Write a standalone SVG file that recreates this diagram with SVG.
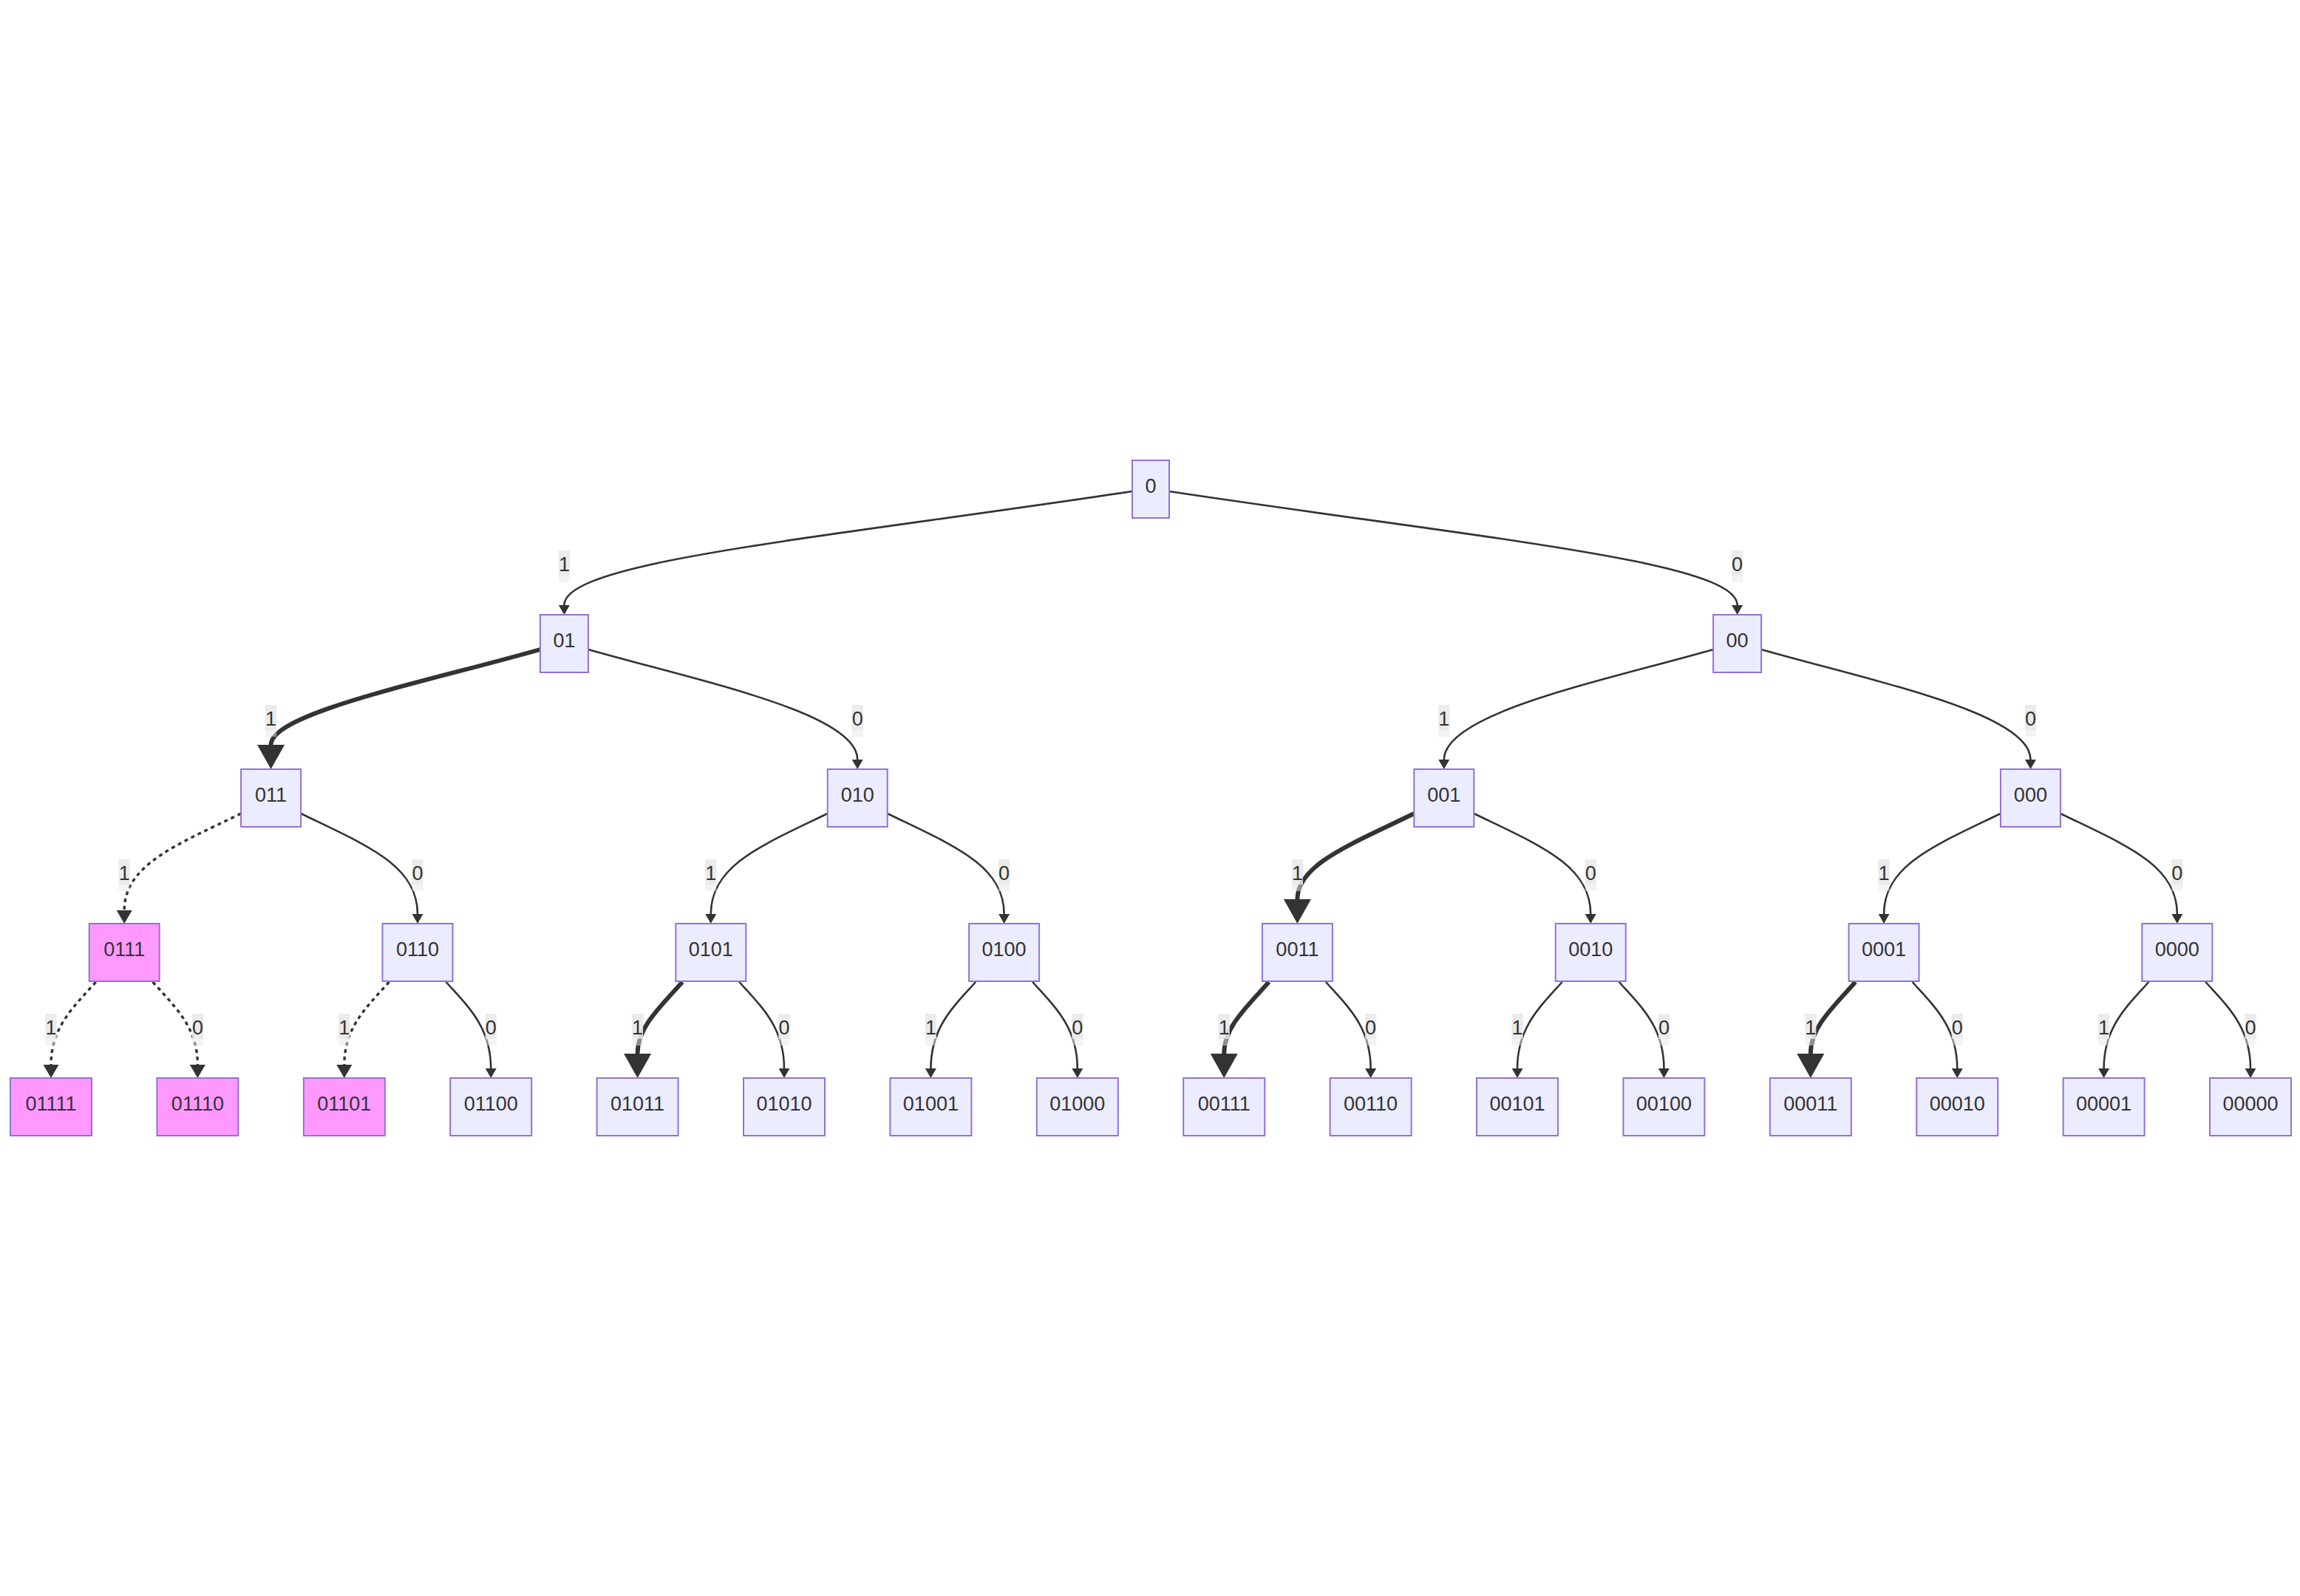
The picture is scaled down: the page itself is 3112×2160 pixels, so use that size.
<svg xmlns="http://www.w3.org/2000/svg" width="3112" height="2160" viewBox="0 0 3112 2160">
<style>
.n{fill:#ECECFF;stroke:#9370DB;stroke-width:2}
.p{fill:#FF99FF;stroke:#9370DB;stroke-width:2}
.nt{font-family:"Liberation Sans",Arial,sans-serif;font-size:27px;fill:#333;text-anchor:middle}
.e{fill:none;stroke:#333;stroke-width:2.6;marker-end:url(#an)}
.t{fill:none;stroke:#333;stroke-width:5.9;marker-end:url(#at)}
.d{fill:none;stroke:#333;stroke-width:3.4;stroke-dasharray:5 5;marker-end:url(#ad)}
.lb{fill:#e8e8e8;opacity:0.5}
.lk{fill:#e8e8e8;opacity:0.8}
</style>
<defs>
<marker id="an" markerUnits="userSpaceOnUse" markerWidth="13" markerHeight="15" viewBox="0 0 13 15" refX="0" refY="7.5" orient="auto"><path d="M0,0 L13,7.5 L0,15 z" fill="#333"/></marker>
<marker id="at" markerUnits="userSpaceOnUse" markerWidth="33" markerHeight="37" viewBox="0 0 33 37" refX="0" refY="18.5" orient="auto"><path d="M0,0 L33,18.5 L0,37 z" fill="#333"/></marker>
<marker id="ad" markerUnits="userSpaceOnUse" markerWidth="18" markerHeight="21" viewBox="0 0 18 21" refX="0" refY="10.5" orient="auto"><path d="M0,0 L18,10.5 L0,21 z" fill="#333"/></marker>
</defs>
<rect x="0" y="0" width="3112" height="2160" fill="#ffffff"/>
<g id="connectors">
<path class="e" d="M1532,665 C1100,730 763.4,760 763.4,819"/>
<path class="e" d="M1582,665 C2014,730 2350.6,760 2350.6,819"/>
<path class="t" d="M730.9,879 C580,922 366.6,965 366.6,1008"/>
<path class="e" d="M795.9,879 C946.8,922 1160.2,965 1160.2,1028"/>
<path class="e" d="M2318.1,879 C2167.2,922 1953.8,965 1953.8,1028"/>
<path class="e" d="M2383.1,879 C2534,922 2747.4,965 2747.4,1028"/>
<path class="d" d="M326.1,1101 C240.1,1143 168.2,1170 168.2,1232"/>
<path class="e" d="M407.1,1101 C493.1,1143 565,1170 565,1237"/>
<path class="e" d="M1119.7,1101 C1033.7,1143 961.8,1170 961.8,1237"/>
<path class="e" d="M1200.7,1101 C1286.7,1143 1358.6,1170 1358.6,1237"/>
<path class="t" d="M1913.3,1101 C1827.3,1143 1755.4,1170 1755.4,1217"/>
<path class="e" d="M1994.3,1101 C2080.3,1143 2152.2,1170 2152.2,1237"/>
<path class="e" d="M2706.9,1101 C2620.9,1143 2549,1170 2549,1237"/>
<path class="e" d="M2787.9,1101 C2873.9,1143 2945.8,1170 2945.8,1237"/>
<path class="d" d="M129.7,1329 C100.2,1362 69,1390 69,1441"/>
<path class="d" d="M206.7,1329 C236.2,1362 267.4,1390 267.4,1441"/>
<path class="d" d="M526.5,1329 C497,1362 465.8,1390 465.8,1441"/>
<path class="e" d="M603.5,1329 C633,1362 664.2,1390 664.2,1446"/>
<path class="t" d="M923.3,1329 C893.8,1362 862.6,1390 862.6,1426"/>
<path class="e" d="M1000.3,1329 C1029.8,1362 1061,1390 1061,1446"/>
<path class="e" d="M1320.1,1329 C1290.6,1362 1259.4,1390 1259.4,1446"/>
<path class="e" d="M1397.1,1329 C1426.6,1362 1457.8,1390 1457.8,1446"/>
<path class="t" d="M1716.9,1329 C1687.4,1362 1656.2,1390 1656.2,1426"/>
<path class="e" d="M1793.9,1329 C1823.4,1362 1854.6,1390 1854.6,1446"/>
<path class="e" d="M2113.7,1329 C2084.2,1362 2053,1390 2053,1446"/>
<path class="e" d="M2190.7,1329 C2220.2,1362 2251.4,1390 2251.4,1446"/>
<path class="t" d="M2510.5,1329 C2481,1362 2449.8,1390 2449.8,1426"/>
<path class="e" d="M2587.5,1329 C2617,1362 2648.2,1390 2648.2,1446"/>
<path class="e" d="M2907.3,1329 C2877.8,1362 2846.6,1390 2846.6,1446"/>
<path class="e" d="M2984.3,1329 C3013.8,1362 3045,1390 3045,1446"/>
</g>
<g id="edge-labels">
<g><rect class="lb" x="755.9" y="745" width="15" height="43"/><rect class="lk" x="755.9" y="745" width="15" height="34"/><text class="nt" x="763.4" y="772.5">1</text></g>
<g><rect class="lb" x="2343.1" y="745" width="15" height="43"/><rect class="lk" x="2343.1" y="745" width="15" height="34"/><text class="nt" x="2350.6" y="772.5">0</text></g>
<g><rect class="lb" x="359.1" y="954" width="15" height="43"/><rect class="lk" x="359.1" y="954" width="15" height="34"/><text class="nt" x="366.6" y="981.5">1</text></g>
<g><rect class="lb" x="1152.7" y="954" width="15" height="43"/><rect class="lk" x="1152.7" y="954" width="15" height="34"/><text class="nt" x="1160.2" y="981.5">0</text></g>
<g><rect class="lb" x="1946.3" y="954" width="15" height="43"/><rect class="lk" x="1946.3" y="954" width="15" height="34"/><text class="nt" x="1953.8" y="981.5">1</text></g>
<g><rect class="lb" x="2739.9" y="954" width="15" height="43"/><rect class="lk" x="2739.9" y="954" width="15" height="34"/><text class="nt" x="2747.4" y="981.5">0</text></g>
<g><rect class="lb" x="160.7" y="1163" width="15" height="43"/><rect class="lk" x="160.7" y="1163" width="15" height="34"/><text class="nt" x="168.2" y="1190.5">1</text></g>
<g><rect class="lb" x="557.5" y="1163" width="15" height="43"/><rect class="lk" x="557.5" y="1163" width="15" height="34"/><text class="nt" x="565" y="1190.5">0</text></g>
<g><rect class="lb" x="954.3" y="1163" width="15" height="43"/><rect class="lk" x="954.3" y="1163" width="15" height="34"/><text class="nt" x="961.8" y="1190.5">1</text></g>
<g><rect class="lb" x="1351.1" y="1163" width="15" height="43"/><rect class="lk" x="1351.1" y="1163" width="15" height="34"/><text class="nt" x="1358.6" y="1190.5">0</text></g>
<g><rect class="lb" x="1747.9" y="1163" width="15" height="43"/><rect class="lk" x="1747.9" y="1163" width="15" height="34"/><text class="nt" x="1755.4" y="1190.5">1</text></g>
<g><rect class="lb" x="2144.7" y="1163" width="15" height="43"/><rect class="lk" x="2144.7" y="1163" width="15" height="34"/><text class="nt" x="2152.2" y="1190.5">0</text></g>
<g><rect class="lb" x="2541.5" y="1163" width="15" height="43"/><rect class="lk" x="2541.5" y="1163" width="15" height="34"/><text class="nt" x="2549" y="1190.5">1</text></g>
<g><rect class="lb" x="2938.3" y="1163" width="15" height="43"/><rect class="lk" x="2938.3" y="1163" width="15" height="34"/><text class="nt" x="2945.8" y="1190.5">0</text></g>
<g><rect class="lb" x="61.5" y="1372" width="15" height="43"/><rect class="lk" x="61.5" y="1372" width="15" height="34"/><text class="nt" x="69" y="1399.5">1</text></g>
<g><rect class="lb" x="259.9" y="1372" width="15" height="43"/><rect class="lk" x="259.9" y="1372" width="15" height="34"/><text class="nt" x="267.4" y="1399.5">0</text></g>
<g><rect class="lb" x="458.3" y="1372" width="15" height="43"/><rect class="lk" x="458.3" y="1372" width="15" height="34"/><text class="nt" x="465.8" y="1399.5">1</text></g>
<g><rect class="lb" x="656.7" y="1372" width="15" height="43"/><rect class="lk" x="656.7" y="1372" width="15" height="34"/><text class="nt" x="664.2" y="1399.5">0</text></g>
<g><rect class="lb" x="855.1" y="1372" width="15" height="43"/><rect class="lk" x="855.1" y="1372" width="15" height="34"/><text class="nt" x="862.6" y="1399.5">1</text></g>
<g><rect class="lb" x="1053.5" y="1372" width="15" height="43"/><rect class="lk" x="1053.5" y="1372" width="15" height="34"/><text class="nt" x="1061" y="1399.5">0</text></g>
<g><rect class="lb" x="1251.9" y="1372" width="15" height="43"/><rect class="lk" x="1251.9" y="1372" width="15" height="34"/><text class="nt" x="1259.4" y="1399.5">1</text></g>
<g><rect class="lb" x="1450.3" y="1372" width="15" height="43"/><rect class="lk" x="1450.3" y="1372" width="15" height="34"/><text class="nt" x="1457.8" y="1399.5">0</text></g>
<g><rect class="lb" x="1648.7" y="1372" width="15" height="43"/><rect class="lk" x="1648.7" y="1372" width="15" height="34"/><text class="nt" x="1656.2" y="1399.5">1</text></g>
<g><rect class="lb" x="1847.1" y="1372" width="15" height="43"/><rect class="lk" x="1847.1" y="1372" width="15" height="34"/><text class="nt" x="1854.6" y="1399.5">0</text></g>
<g><rect class="lb" x="2045.5" y="1372" width="15" height="43"/><rect class="lk" x="2045.5" y="1372" width="15" height="34"/><text class="nt" x="2053" y="1399.5">1</text></g>
<g><rect class="lb" x="2243.9" y="1372" width="15" height="43"/><rect class="lk" x="2243.9" y="1372" width="15" height="34"/><text class="nt" x="2251.4" y="1399.5">0</text></g>
<g><rect class="lb" x="2442.3" y="1372" width="15" height="43"/><rect class="lk" x="2442.3" y="1372" width="15" height="34"/><text class="nt" x="2449.8" y="1399.5">1</text></g>
<g><rect class="lb" x="2640.7" y="1372" width="15" height="43"/><rect class="lk" x="2640.7" y="1372" width="15" height="34"/><text class="nt" x="2648.2" y="1399.5">0</text></g>
<g><rect class="lb" x="2839.1" y="1372" width="15" height="43"/><rect class="lk" x="2839.1" y="1372" width="15" height="34"/><text class="nt" x="2846.6" y="1399.5">1</text></g>
<g><rect class="lb" x="3037.5" y="1372" width="15" height="43"/><rect class="lk" x="3037.5" y="1372" width="15" height="34"/><text class="nt" x="3045" y="1399.5">0</text></g>
</g>
<g id="node-0"><rect class="n" x="1532" y="623" width="50" height="78"/><text class="nt" x="1557" y="666.5">0</text></g>
<g id="node-01"><rect class="n" x="730.9" y="832" width="65" height="78"/><text class="nt" x="763.4" y="875.5">01</text></g>
<g id="node-00"><rect class="n" x="2318.1" y="832" width="65" height="78"/><text class="nt" x="2350.6" y="875.5">00</text></g>
<g id="node-011"><rect class="n" x="326.1" y="1041" width="81" height="78"/><text class="nt" x="366.6" y="1084.5">011</text></g>
<g id="node-010"><rect class="n" x="1119.7" y="1041" width="81" height="78"/><text class="nt" x="1160.2" y="1084.5">010</text></g>
<g id="node-001"><rect class="n" x="1913.3" y="1041" width="81" height="78"/><text class="nt" x="1953.8" y="1084.5">001</text></g>
<g id="node-000"><rect class="n" x="2706.9" y="1041" width="81" height="78"/><text class="nt" x="2747.4" y="1084.5">000</text></g>
<g id="node-0111"><rect class="p" x="120.7" y="1250" width="95" height="78"/><text class="nt" x="168.2" y="1293.5">0111</text></g>
<g id="node-0110"><rect class="n" x="517.5" y="1250" width="95" height="78"/><text class="nt" x="565" y="1293.5">0110</text></g>
<g id="node-0101"><rect class="n" x="914.3" y="1250" width="95" height="78"/><text class="nt" x="961.8" y="1293.5">0101</text></g>
<g id="node-0100"><rect class="n" x="1311.1" y="1250" width="95" height="78"/><text class="nt" x="1358.6" y="1293.5">0100</text></g>
<g id="node-0011"><rect class="n" x="1707.9" y="1250" width="95" height="78"/><text class="nt" x="1755.4" y="1293.5">0011</text></g>
<g id="node-0010"><rect class="n" x="2104.7" y="1250" width="95" height="78"/><text class="nt" x="2152.2" y="1293.5">0010</text></g>
<g id="node-0001"><rect class="n" x="2501.5" y="1250" width="95" height="78"/><text class="nt" x="2549" y="1293.5">0001</text></g>
<g id="node-0000"><rect class="n" x="2898.3" y="1250" width="95" height="78"/><text class="nt" x="2945.8" y="1293.5">0000</text></g>
<g id="node-01111"><rect class="p" x="14" y="1459" width="110" height="78"/><text class="nt" x="69" y="1502.5">01111</text></g>
<g id="node-01110"><rect class="p" x="212.4" y="1459" width="110" height="78"/><text class="nt" x="267.4" y="1502.5">01110</text></g>
<g id="node-01101"><rect class="p" x="410.8" y="1459" width="110" height="78"/><text class="nt" x="465.8" y="1502.5">01101</text></g>
<g id="node-01100"><rect class="n" x="609.2" y="1459" width="110" height="78"/><text class="nt" x="664.2" y="1502.5">01100</text></g>
<g id="node-01011"><rect class="n" x="807.6" y="1459" width="110" height="78"/><text class="nt" x="862.6" y="1502.5">01011</text></g>
<g id="node-01010"><rect class="n" x="1006" y="1459" width="110" height="78"/><text class="nt" x="1061" y="1502.5">01010</text></g>
<g id="node-01001"><rect class="n" x="1204.4" y="1459" width="110" height="78"/><text class="nt" x="1259.4" y="1502.5">01001</text></g>
<g id="node-01000"><rect class="n" x="1402.8" y="1459" width="110" height="78"/><text class="nt" x="1457.8" y="1502.5">01000</text></g>
<g id="node-00111"><rect class="n" x="1601.2" y="1459" width="110" height="78"/><text class="nt" x="1656.2" y="1502.5">00111</text></g>
<g id="node-00110"><rect class="n" x="1799.6" y="1459" width="110" height="78"/><text class="nt" x="1854.6" y="1502.5">00110</text></g>
<g id="node-00101"><rect class="n" x="1998" y="1459" width="110" height="78"/><text class="nt" x="2053" y="1502.5">00101</text></g>
<g id="node-00100"><rect class="n" x="2196.4" y="1459" width="110" height="78"/><text class="nt" x="2251.4" y="1502.5">00100</text></g>
<g id="node-00011"><rect class="n" x="2394.8" y="1459" width="110" height="78"/><text class="nt" x="2449.8" y="1502.5">00011</text></g>
<g id="node-00010"><rect class="n" x="2593.2" y="1459" width="110" height="78"/><text class="nt" x="2648.2" y="1502.5">00010</text></g>
<g id="node-00001"><rect class="n" x="2791.6" y="1459" width="110" height="78"/><text class="nt" x="2846.6" y="1502.5">00001</text></g>
<g id="node-00000"><rect class="n" x="2990" y="1459" width="110" height="78"/><text class="nt" x="3045" y="1502.5">00000</text></g>
</svg>
